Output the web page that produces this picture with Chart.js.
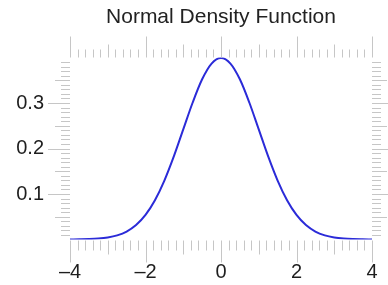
<!DOCTYPE html>
<html>
<head>
<meta charset="utf-8">
<style>
  html, body { margin: 0; padding: 0; background: #ffffff; }
  #wrap { width: 388px; height: 285px; }
</style>
<script src="https://cdn.jsdelivr.net/npm/chart.js@4"></script>
</head>
<body>
<div id="wrap"><canvas id="c" width="388" height="285"></canvas></div>
<script>
// Values
const xValues = [-4, -3.75, -3.5, -3.25, -3, -2.75, -2.5, -2.25, -2, -1.75, -1.5, -1.25, -1, -0.75, -0.5, -0.25,
                 0, 0.25, 0.5, 0.75, 1, 1.25, 1.5, 1.75, 2, 2.25, 2.5, 2.75, 3, 3.25, 3.5, 3.75, 4];
const densityValues = [0.0001, 0.0004, 0.0009, 0.0020, 0.0044, 0.0091, 0.0175, 0.0317, 0.0540, 0.0863, 0.1295, 0.1826,
                       0.2420, 0.3011, 0.3521, 0.3867, 0.3989, 0.3867, 0.3521, 0.3011, 0.2420, 0.1826, 0.1295, 0.0863,
                       0.0540, 0.0317, 0.0175, 0.0091, 0.0044, 0.0020, 0.0009, 0.0004, 0.0001];

const xTickValues = [-4, -2, 0, 2, 4];
const xTickLabels = ['\u20134', '\u20132', '0', '2', '4'];
const yTickValues = [0.1, 0.2, 0.3];
const yTickLabels = ['0.1', '0.2', '0.3'];

const titleText = 'Normal Density Function';

const points = xValues.map((v, i) => ({ x: v, y: densityValues[i] }));

function near(a, b) { return Math.abs(a - b) < 1e-6; }

const frameTicks = {
  id: 'frameTicks',
  afterDraw(chart) {
    const { ctx, chartArea: a, scales: { x, y } } = chart;
    ctx.save();
    ctx.strokeStyle = '#c6c6c6';
    ctx.lineWidth = 1;
    ctx.beginPath();
    // x-direction ticks every 0.2
    for (let k = -20; k <= 20; k++) {
      const v = k / 5;
      let topLen = 8, botLen = 10;
      if (k % 10 === 0) { topLen = 21; botLen = 22; }
      else if (k % 5 === 0) { topLen = 13; botLen = 14; }
      const px = Math.round(x.getPixelForValue(v)) + 0.5;
      ctx.moveTo(px, a.top);
      ctx.lineTo(px, a.top - topLen);
      ctx.moveTo(px, a.bottom + 1);
      ctx.lineTo(px, a.bottom + 1 + botLen);
    }
    // y-direction ticks every 0.01
    for (let k = 1; k <= 39; k++) {
      const v = k / 100;
      let len = 9;
      if (k % 10 === 0) len = 22;
      else if (k % 5 === 0) len = 15;
      const py = Math.round(y.getPixelForValue(v)) + 0.5;
      ctx.moveTo(a.left, py);
      ctx.lineTo(a.left - len, py);
      ctx.moveTo(a.right, py);
      ctx.lineTo(a.right + len, py);
    }
    ctx.stroke();
    ctx.restore();
  }
};

new Chart(document.getElementById('c'), {
  type: 'line',
  data: {
    datasets: [{
      data: points,
      borderColor: '#2b2bd8',
      borderWidth: 2,
      pointRadius: 0,
      fill: false,
      cubicInterpolationMode: 'monotone'
    }]
  },
  options: {
    responsive: false,
    animation: false,
    layout: { padding: { left: 0, right: 16, top: 0, bottom: 0 } },
    plugins: {
      legend: { display: false },
      tooltip: { enabled: false },
      title: {
        display: true,
        text: titleText,
        fullSize: false,
        color: '#222222',
        font: { family: 'Liberation Sans, Arial, sans-serif', size: 21, weight: 'normal' },
        padding: { top: 5, bottom: 27.3 }
      }
    },
    scales: {
      x: {
        type: 'linear',
        min: -4,
        max: 4,
        border: { display: false },
        grid: { display: false, drawTicks: false },
        afterBuildTicks: s => { s.ticks = xTickValues.map(v => ({ value: v })); },
        afterFit: s => { s.height = 45.5; s.paddingLeft = 0; s.paddingRight = 0; },
        ticks: {
          autoSkip: false,
          maxRotation: 0,
          padding: 21,
          color: '#1e1e1e',
          font: { family: 'Liberation Sans, Arial, sans-serif', size: 20 },
          callback: v => { const i = xTickValues.findIndex(t => near(t, v)); return i >= 0 ? xTickLabels[i] : ''; }
        }
      },
      y: {
        min: 0,
        max: 0.4,
        border: { display: false },
        grid: { display: false, drawTicks: false },
        afterBuildTicks: s => { s.ticks = yTickValues.map(v => ({ value: v })); },
        afterFit: s => { s.width = 70; s.paddingTop = 0; s.paddingBottom = 0; },
        ticks: {
          autoSkip: false,
          padding: 26,
          color: '#1e1e1e',
          font: { family: 'Liberation Sans, Arial, sans-serif', size: 20 },
          callback: v => { const i = yTickValues.findIndex(t => near(t, v)); return i >= 0 ? yTickLabels[i] : ''; }
        }
      }
    }
  },
  plugins: [frameTicks]
});
</script>
</body>
</html>
